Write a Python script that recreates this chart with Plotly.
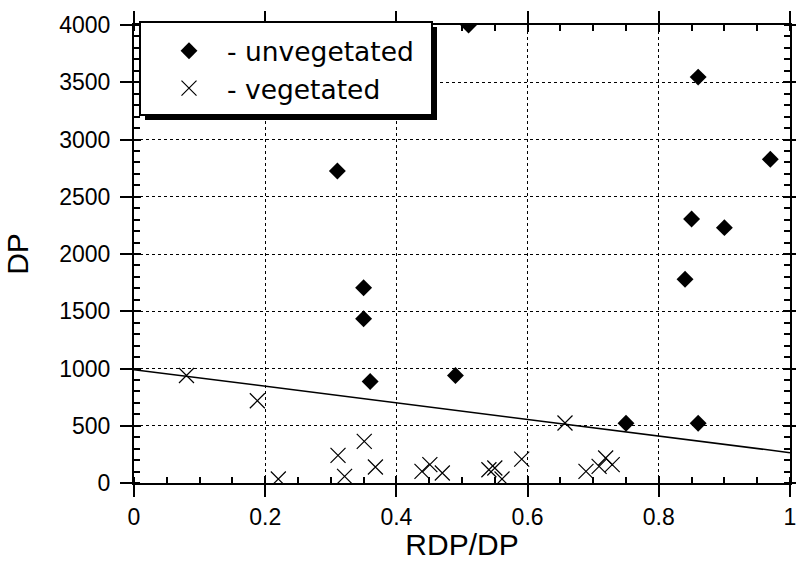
import plotly.graph_objects as go

# unvegetated (diamonds)
unveg_x = [0.51, 0.86, 0.31, 0.35, 0.35, 0.36, 0.49, 0.75, 0.86, 0.84, 0.85, 0.90, 0.97]
unveg_y = [4000, 3545, 2725, 1705, 1435, 887, 939, 522, 522, 1779, 2306, 2230, 2827]

# vegetated (crosses)
veg_x = [0.080, 0.188, 0.220, 0.311, 0.321, 0.351, 0.368, 0.439, 0.451, 0.470,
         0.541, 0.550, 0.561, 0.591, 0.657, 0.689, 0.709, 0.719, 0.729]
veg_y = [939, 718, 35, 241, 58, 363, 140, 101, 160, 87,
         116, 131, 35, 209, 524, 101, 145, 218, 160]

# fitted line
fit_x = [0, 1]
fit_y = [990, 265]

FONT = "Liberation Sans, Arial, sans-serif"

fig = go.Figure()
fig.add_trace(go.Scatter(x=unveg_x, y=unveg_y, mode="markers", name="- unvegetated",
                         marker=dict(symbol="diamond", size=13, color="black")))
fig.add_trace(go.Scatter(x=veg_x, y=veg_y, mode="markers", name="- vegetated",
                         marker=dict(symbol="x-thin-open", size=15, color="black",
                                     line=dict(color="black", width=1.2))))
fig.add_trace(go.Scatter(x=fit_x, y=fit_y, mode="lines", showlegend=False,
                         line=dict(color="black", width=1.5), xaxis="x2", yaxis="y2"))

W, H = 796, 561
L, R, T, B = 134, 6, 25, 78
pw, ph = W - L - R, H - T - B

def px(x):
    return (x - L) / pw

def py(y):
    return (T + ph - y) / ph

common_x = dict(range=[0, 1], tick0=0, dtick=0.2, automargin=False)
common_y = dict(range=[0, 4000], tick0=0, dtick=500, automargin=False)

fig.update_layout(
    template="none",
    width=W, height=H, autosize=False,
    margin=dict(l=L, r=R, t=T, b=B, pad=0),
    paper_bgcolor="white", plot_bgcolor="white",
    font=dict(family=FONT, color="black"),
    xaxis=dict(**common_x, showline=True, linecolor="black", linewidth=2,
               mirror="ticks", ticks="outside", ticklen=12, tickwidth=2, tickcolor="black",
               showgrid=True, gridcolor="black", gridwidth=1, griddash="dot",
               zeroline=False, tickfont=dict(size=23), ticklabeloverflow="allow",
               title=dict(text="RDP/DP", font=dict(size=30), standoff=2),
               minor=dict(ticks="inside", dtick=0.05, ticklen=6, tickwidth=1.5,
                          tickcolor="black", showgrid=False)),
    yaxis=dict(**common_y, showline=True, linecolor="black", linewidth=2,
               mirror="ticks", ticks="outside", ticklen=12, tickwidth=2, tickcolor="black",
               showgrid=True, gridcolor="black", gridwidth=1, griddash="dot",
               zeroline=False, tickfont=dict(size=23), ticklabelstandoff=5,
               ticklabeloverflow="allow",
               title=dict(text="DP", font=dict(size=30), standoff=22),
               minor=dict(ticks="inside", dtick=100, ticklen=6, tickwidth=1.5,
                          tickcolor="black", showgrid=False)),
    xaxis2=dict(**common_x, overlaying="x", anchor="y", ticks="inside", ticklen=7,
                tickwidth=2, tickcolor="black", mirror="ticks", showticklabels=False,
                showgrid=False, zeroline=False, showline=False),
    yaxis2=dict(**common_y, overlaying="y", anchor="x", ticks="inside", ticklen=7,
                tickwidth=2, tickcolor="black", mirror="ticks", showticklabels=False,
                showgrid=False, zeroline=False, showline=False),
    legend=dict(x=px(151), y=py(27), xanchor="left", yanchor="top",
                bgcolor="rgba(0,0,0,0)", borderwidth=0, itemwidth=66,
                font=dict(size=26.5, family="DejaVu Sans")),
    shapes=[
        dict(type="rect", xref="paper", yref="paper", layer="above",
             x0=px(145), x1=px(437), y0=py(120), y1=py(27),
             fillcolor="black", line=dict(width=0)),
        dict(type="rect", xref="paper", yref="paper", layer="above",
             x0=px(140), x1=px(432), y0=py(115), y1=py(22),
             fillcolor="white", line=dict(color="black", width=2)),
    ],
)

fig.write_html(
    "out.html",
    config={"displayModeBar": False},
    post_script="document.body.style.margin='0';document.body.style.overflow='hidden';",
)
